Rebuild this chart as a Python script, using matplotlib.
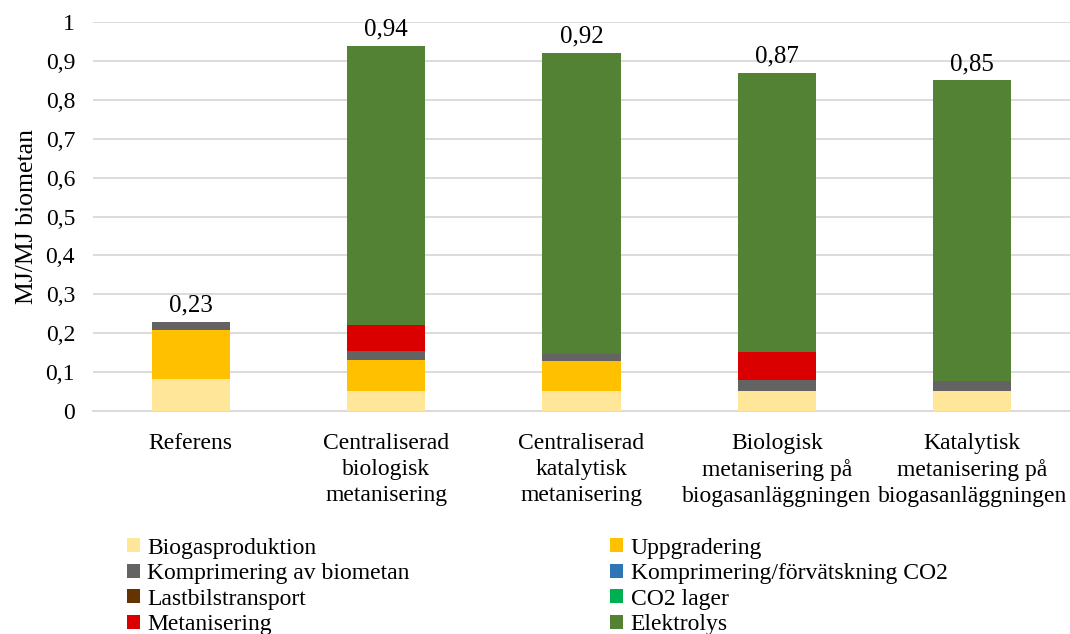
import numpy as np
import matplotlib
matplotlib.use("Agg")
import matplotlib.pyplot as plt
from matplotlib.ticker import FuncFormatter, MultipleLocator

plt.rcParams['font.family'] = ['Liberation Serif', 'DejaVu Serif']

# scenarios along the x axis
categories = [
    "Referens",
    "Centraliserad\nbiologisk\nmetanisering",
    "Centraliserad\nkatalytisk\nmetanisering",
    "Biologisk\nmetanisering på\nbiogasanläggningen",
    "Katalytisk\nmetanisering på\nbiogasanläggningen",
]

# energy use per step, MJ/MJ biometan (stacked bottom to top)
biogasproduktion = [0.083, 0.052, 0.052, 0.052, 0.051]
uppgradering = [0.125, 0.080, 0.077, 0.0, 0.0]
komprimering_biometan = [0.020, 0.022, 0.016, 0.027, 0.025]
komprimering_co2 = [0.0, 0.001, 0.002, 0.0, 0.0]
lastbilstransport = [0.0, 0.0, 0.0, 0.0, 0.0]
co2_lager = [0.0, 0.0, 0.0, 0.0, 0.0]
metanisering = [0.0, 0.065, 0.0, 0.073, 0.0]
elektrolys = [0.0, 0.720, 0.773, 0.718, 0.774]

totals = [0.23, 0.94, 0.92, 0.87, 0.85]

series = [
    ("Biogasproduktion", biogasproduktion, "#FFE699"),
    ("Uppgradering", uppgradering, "#FFC000"),
    ("Komprimering av biometan", komprimering_biometan, "#636363"),
    ("Komprimering/förvätskning CO2", komprimering_co2, "#2E75B6"),
    ("Lastbilstransport", lastbilstransport, "#663300"),
    ("CO2 lager", co2_lager, "#00B050"),
    ("Metanisering", metanisering, "#DA0000"),
    ("Elektrolys", elektrolys, "#548235"),
]

fig = plt.figure(figsize=(10.7, 6.34), dpi=100)
ax = fig.add_axes([0.087, 0.352, 0.913, 0.613])

x = np.arange(len(categories))
bottom = np.zeros(len(categories))
handles = []
for name, vals, color in series:
    vals = np.array(vals)
    h = ax.bar(x, vals, width=0.4, bottom=bottom, color=color, label=name,
               edgecolor="none", zorder=3)
    handles.append(h)
    bottom += vals

for xi, tot, top in zip(x, totals, bottom):
    ax.text(xi, top + 0.014, f"{tot:.2f}".replace(".", ","), ha="center",
            va="bottom", fontsize=18)

ax.set_xlim(-0.5, len(categories) - 0.5)
ax.set_ylim(0, 1)
ax.yaxis.set_major_locator(MultipleLocator(0.1))
ax.yaxis.set_major_formatter(
    FuncFormatter(lambda v, _: f"{v:.1f}".rstrip("0").rstrip(".").replace(".", ",") if v else "0"))
ax.set_xticks(x)
ax.set_xticklabels(categories, fontsize=17, linespacing=1.3)
ax.tick_params(axis="both", length=0, labelsize=17)
ax.tick_params(axis="x", pad=16)
ax.tick_params(axis="y", pad=13)
ax.grid(axis="y", color="#D9D9D9", linewidth=1.3, zorder=0)
for side in ["top", "right", "left"]:
    ax.spines[side].set_visible(False)
ax.spines["bottom"].set_color("#D9D9D9")
ax.spines["bottom"].set_linewidth(1.3)
ax.set_ylabel("MJ/MJ biometan", fontsize=18.5)
ax.yaxis.set_label_coords(-0.056, 0.5)

# legend reads row by row, two columns
order = [0, 2, 4, 6, 1, 3, 5, 7]
fig.legend([handles[i] for i in order], [series[i][0] for i in order],
           ncol=2, loc="upper left", bbox_to_anchor=(0.119, 0.152),
           frameon=False, fontsize=17, handlelength=0.55, handleheight=0.55,
           handletextpad=0.3, labelspacing=0.19, columnspacing=8.5,
           borderpad=0, borderaxespad=0)

fig.savefig("out.png", dpi=100)
